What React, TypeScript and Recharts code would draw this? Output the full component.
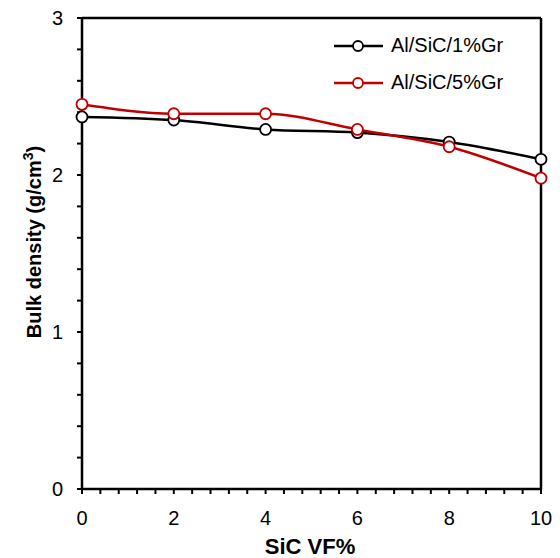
import React from 'react';
import { LineChart, Line, XAxis, YAxis, ReferenceLine } from 'recharts';

const sicVF = [0, 2, 4, 6, 8, 10];
const gr1 = [2.37, 2.35, 2.29, 2.27, 2.21, 2.1];
const gr5 = [2.45, 2.39, 2.39, 2.29, 2.18, 1.98];
const xTicks = [0, 0.4, 0.8, 1.2, 1.6, 2, 2.4, 2.8, 3.2, 3.6, 4, 4.4, 4.8, 5.2, 5.6, 6, 6.4, 6.8, 7.2, 7.6, 8, 8.4, 8.8, 9.2, 9.6, 10];
const yTicks = [0, 0.2, 0.4, 0.6, 0.8, 1, 1.2, 1.4, 1.6, 1.8, 2, 2.2, 2.4, 2.6, 2.8, 3];
const seriesNames = ['Al/SiC/1%Gr', 'Al/SiC/5%Gr'];
const seriesColors = ['#000000', '#c00000'];

const data = sicVF.map((x, i) => ({ x, a: gr1[i], b: gr5[i] }));

const FONT = '"Liberation Sans", Arial, sans-serif';

const isMult = (v: number, m: number) => Math.abs(v / m - Math.round(v / m)) < 1e-6;

const LegendBox = () => (
  <div style={{ position: 'absolute', left: 325, top: 19, fontFamily: FONT, fontSize: 20, color: '#000' }}>
    {seriesNames.map((n, i) => (
      <div key={n} style={{ display: 'flex', alignItems: 'center', height: 37 }}>
        <svg width={52} height={14} style={{ marginRight: 6 }}>
          <line x1={1} y1={7} x2={50} y2={7} stroke={seriesColors[i]} strokeWidth={2.5} />
          <circle cx={25} cy={7} r={5} fill="#fff" stroke={seriesColors[i]} strokeWidth={1.8} />
        </svg>
        <span>{n}</span>
      </div>
    ))}
  </div>
);

export default function App() {
  return (
    <div style={{ position: 'relative', width: 552, height: 550, fontFamily: FONT }}>
      <LineChart width={552} height={550} data={data} margin={{ top: 10, right: 19, left: 0, bottom: 0 }}>
        <XAxis
          dataKey="x"
          type="number"
          domain={[0, 10]}
          ticks={xTicks}
          interval={0}
          tickFormatter={(v: number) => (isMult(v, 2) ? String(Math.round(v)) : '')}
          height={69}
          tickSize={5}
          tickMargin={17}
          axisLine={{ stroke: '#000', strokeWidth: 2.5 }}
          tickLine={{ stroke: '#000', strokeWidth: 2 }}
          tick={{ fill: '#000', fontSize: 20, fontFamily: FONT }}
          label={() => (
            <text x={302} y={546} textAnchor="middle" fontFamily={FONT} fontSize={22} fontWeight="bold" fill="#000">
              SiC VF%
            </text>
          )}
        />
        <YAxis
          type="number"
          domain={[0, 3]}
          ticks={yTicks}
          interval={0}
          tickFormatter={(v: number) => (isMult(v, 1) ? String(Math.round(v)) : '')}
          width={74}
          tickSize={5}
          tickMargin={14}
          axisLine={{ stroke: '#000', strokeWidth: 2.5 }}
          tickLine={{ stroke: '#000', strokeWidth: 2 }}
          tick={{ fill: '#000', fontSize: 20, fontFamily: FONT }}
          label={() => (
            <text x={33} y={234} transform="rotate(-90 33 234)" textAnchor="middle" fontFamily={FONT} fontSize={20} fontWeight="bold" fill="#000">
              Bulk density (g/cm<tspan fontSize={14} dy={-8}>3</tspan><tspan dy={8}>)</tspan>
            </text>
          )}
        />
        <ReferenceLine x={10} stroke="#000" strokeWidth={2.5} />
        <ReferenceLine y={3} stroke="#000" strokeWidth={2.5} />
        <Line
          type="monotone"
          dataKey="a"
          name={seriesNames[0]}
          stroke={seriesColors[0]}
          strokeWidth={2.5}
          dot={{ r: 5.5, fill: '#fff', stroke: seriesColors[0], strokeWidth: 1.8 }}
          isAnimationActive={false}
        />
        <Line
          type="monotone"
          dataKey="b"
          name={seriesNames[1]}
          stroke={seriesColors[1]}
          strokeWidth={2.5}
          dot={{ r: 5.5, fill: '#fff', stroke: seriesColors[1], strokeWidth: 1.8 }}
          isAnimationActive={false}
        />
      </LineChart>
      <LegendBox />
    </div>
  );
}
